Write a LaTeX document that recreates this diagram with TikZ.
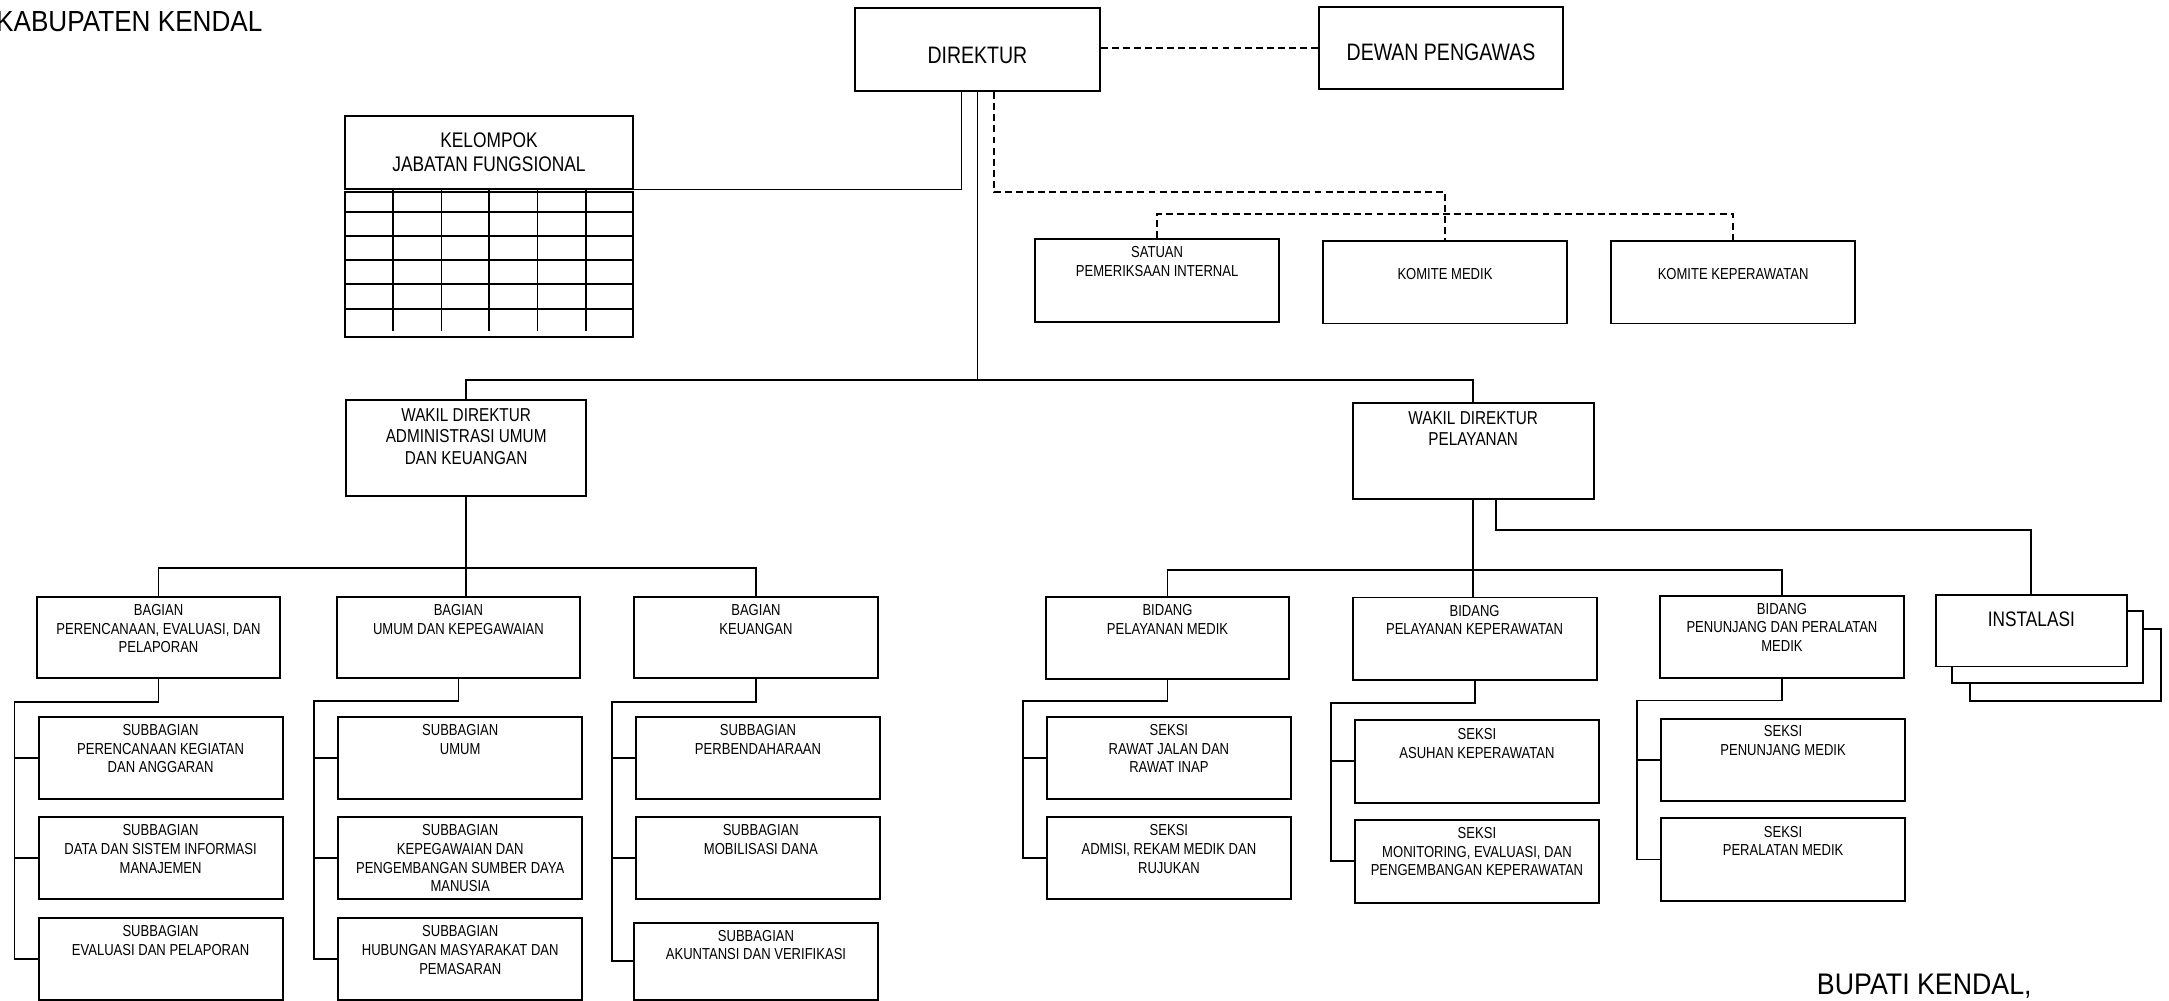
\documentclass[tikz,border=0pt]{standalone}
\usepackage{fontspec}
\setmainfont{Liberation Sans}[FakeStretch=0.82]
\newfontfamily\widefont{Liberation Sans}[FakeStretch=0.9]
\usepackage{tikz}

\begin{document}
\begin{tikzpicture}[x=1pt,y=1pt,yscale=-1,xscale=1,
	unit/.style={draw, line width=1.4pt, inner sep=0pt, minimum width=176.3, minimum height=59.3},
	lbl/.style={anchor=north, inner sep=0.75pt, align=center, font=\fontsize{11.5}{13.5}\selectfont},
	conn/.style={line width=1.3pt},
	dline/.style={line width=1.3pt, dash pattern=on 5pt off 3pt}]
	%set diagram left start at 0, and has height of 723.6
	\path [use as bounding box, fill=white] (0,0) rectangle (1568,723.6);
	
	%Shape: Rectangle [direktur]
	\node [unit, minimum width=177, minimum height=60] (dir) at (706.6,36) {};
	%Shape: Rectangle [dewan pengawas]
	\node [unit, minimum width=176.2, minimum height=59.6] (dewan) at (1041.7,34.6) {};
	%Shape: Rectangle [kelompok jabatan fungsional]
	\node [unit, minimum width=208.2, minimum height=52.3] (kjf) at (353.5,110.2) {};
	%Shape: Grid
	\node [unit, minimum width=208.2, minimum height=104.8] (kjfgrid) at (353.5,191) {};
	\foreach \y in {153.5,170.6,188,205.5,223.4} \draw [conn] (249.4,\y) -- (457.6,\y);
	\foreach \x in {284.3,319.2,353.7,388.6,423.4} \draw [conn] (\x,136.3) -- (\x,239.5);
	%Shape: Rectangle [satuan, komite]
	\node [unit, minimum height=59.7] (satuan) at (836.5,202.7) {};
	\node [unit] (kmedik) at (1044.6,204.2) {};
	\node [unit] (kkep) at (1252.9,204.2) {};
	%Shape: Rectangle [wakil direktur]
	\node [unit, minimum width=173.2, minimum height=69.3] (wadm) at (337,323.7) {};
	\node [unit, minimum width=174.1, minimum height=69.6] (wpel) at (1065,325.8) {};
	%Shape: Rectangle [bagian]
	\node [unit, minimum width=176.2, minimum height=59] (bag1) at (114.6,460.8) {};
	\node [unit, minimum width=176.2, minimum height=59] (bag2) at (331.4,460.8) {};
	\node [unit, minimum width=176.2, minimum height=59] (bag3) at (546.5,460.8) {};
	%Shape: Rectangle [subbagian]
	\node [unit] (s11) at (116.1,547.8) {};
	\node [unit] (s12) at (116.1,620.3) {};
	\node [unit] (s13) at (116.1,693.1) {};
	\node [unit] (s21) at (332.7,547.8) {};
	\node [unit] (s22) at (332.7,620.3) {};
	\node [unit] (s23) at (332.7,693.1) {};
	\node [unit] (s31) at (548,547.8) {};
	\node [unit] (s32) at (548,620.3) {};
	\node [unit, minimum height=55.8] (s33) at (546.5,694.8) {};
	%Shape: Rectangle [bidang]
	\node [unit, minimum height=59.5] (bid1) at (844,461) {};
	\node [unit, minimum height=59.5] (bid2) at (1066,461.7) {};
	\node [unit, minimum height=59.5] (bid3) at (1288.2,460.5) {};
	%Shape: Rectangle [seksi]
	\node [unit] (k11) at (845,548) {};
	\node [unit] (k12) at (845,620.3) {};
	\node [unit, minimum height=60] (k21) at (1067.7,550.4) {};
	\node [unit, minimum height=60] (k22) at (1067.7,622.7) {};
	\node [unit, minimum height=59.5] (k31) at (1289,549.3) {};
	\node [unit, minimum height=59.5] (k32) at (1289,621.4) {};
	%Shape: Rectangle [instalasi, stacked]
	\node [unit, fill=white, minimum width=138, minimum height=52] (inst3) at (1493.2,480.5) {};
	\node [unit, fill=white, minimum width=138, minimum height=52] (inst2) at (1480,467.6) {};
	\node [unit, fill=white, minimum width=138, minimum height=52] (inst) at (1468.5,455.8) {};
	
	%Straight Lines [direktur]
	\draw [dline] (dir.east |- dewan.west) -- (dewan.west);
	\draw [conn] ([xshift=-11.6]dir.south) |- (kjf.south east);
	\draw [conn] (dir.south) -- ++(0,208) coordinate (tbus);
	\draw [dline] ([xshift=11.7]dir.south) -- ++(0,72) -| (kmedik.north);
	\draw [dline] (satuan.north) -- ++(0,-17.4) -| (kkep.north);
	\draw [conn] (wadm.north) |- (tbus) -| (wpel.north);
	%Straight Lines [wakil direktur administrasi]
	\draw [conn] (wadm.south) -- (wadm.south |- bag2.north);
	\draw [conn] (bag1.north) -- ++(0,-20) -| (bag3.north);
	\draw [conn] (bag1.south) -- ++(0,16.3) -| ([xshift=-16.7]s11.west) |- (s13.west);
	\draw [conn] ([xshift=-16.7]s11.west) -- (s11.west);
	\draw [conn] ([xshift=-16.7]s12.west) -- (s12.west);
	\draw [conn] (bag2.south) -- ++(0,16) -| ([xshift=-16.7]s21.west) |- (s23.west);
	\draw [conn] ([xshift=-16.7]s21.west) -- (s21.west);
	\draw [conn] ([xshift=-16.7]s22.west) -- (s22.west);
	\draw [conn] (bag3.south) -- ++(0,16.6) -| ([xshift=-16.7]s31.west) |- (s33.west);
	\draw [conn] ([xshift=-16.7]s31.west) -- (s31.west);
	\draw [conn] ([xshift=-16.7]s32.west) -- (s32.west);
	%Straight Lines [wakil direktur pelayanan]
	\draw [conn] (wpel.south) -- (wpel.south |- bid2.north);
	\draw [conn] ([xshift=16.4]wpel.south) -- ++(0,22) -| (inst.north);
	\draw [conn] (bid1.north) -- ++(0,-18.6) -| (bid3.north);
	\draw [conn] (bid1.south) -- ++(0,15.5) -| ([xshift=-16.7]k11.west) |- (k12.west);
	\draw [conn] ([xshift=-16.7]k11.west) -- (k11.west);
	\draw [conn] (bid2.south) -- ++(0,15.8) -| ([xshift=-16.7]k21.west) |- (k22.west);
	\draw [conn] ([xshift=-16.7]k21.west) -- (k21.west);
	\draw [conn] (bid3.south) -- ++(0,15.4) -| ([xshift=-16.7]k31.west) |- (k32.west);
	\draw [conn] ([xshift=-16.7]k31.west) -- (k31.west);
	
	% Text Node
	\node [anchor=base west, inner sep=0pt, font=\widefont\fontsize{21}{26}\selectfont] (kabT) at (-3,22.9) {KABUPATEN KENDAL};
	\node [anchor=base west, inner sep=0pt, font=\widefont\fontsize{21.5}{26}\selectfont] (bupT) at (1313.3,718.8) {BUPATI KENDAL,};
	\node [inner sep=0.75pt, font=\fontsize{17.2}{20}\selectfont] (dirT) at (706.6,39.8) {DIREKTUR};
	\node [inner sep=0.75pt, font=\fontsize{17.2}{20}\selectfont] (dewanT) at (1041.7,38.1) {DEWAN PENGAWAS};
	\node [inner sep=0.75pt, align=center, font=\fontsize{15.3}{17.4}\selectfont] (kjfT) at (353.5,109.9) {KELOMPOK\\JABATAN FUNGSIONAL};
	\node [lbl] (satuanT) at (836.5,177.4) {SATUAN\\PEMERIKSAAN INTERNAL};
	\node [lbl] (kmedikT) at (1044.6,193.2) {KOMITE MEDIK};
	\node [lbl] (kkepT) at (1252.9,193.2) {KOMITE KEPERAWATAN};
	\node [lbl, font=\fontsize{13.5}{15.6}\selectfont] (wadmT) at (337,294.2) {WAKIL DIREKTUR\\ADMINISTRASI UMUM\\DAN KEUANGAN};
	\node [lbl, font=\fontsize{13.5}{15.6}\selectfont] (wpelT) at (1065,296.5) {WAKIL DIREKTUR\\PELAYANAN};
	% Text Node [bagian]
	\node [lbl] (bag1T) at (114.6,435.9) {BAGIAN\\PERENCANAAN, EVALUASI, DAN\\PELAPORAN};
	\node [lbl] (bag2T) at (331.4,435.9) {BAGIAN\\UMUM DAN KEPEGAWAIAN};
	\node [lbl] (bag3T) at (546.5,435.9) {BAGIAN\\KEUANGAN};
	\node [lbl] (s11T) at (116.1,522.6) {SUBBAGIAN\\PERENCANAAN KEGIATAN\\DAN ANGGARAN};
	\node [lbl] (s12T) at (116.1,595.3) {SUBBAGIAN\\DATA DAN SISTEM INFORMASI\\MANAJEMEN};
	\node [lbl] (s13T) at (116.1,668.3) {SUBBAGIAN\\EVALUASI DAN PELAPORAN};
	\node [lbl] (s21T) at (332.7,522.6) {SUBBAGIAN\\UMUM};
	\node [lbl] (s22T) at (332.7,595.3) {SUBBAGIAN\\KEPEGAWAIAN DAN\\PENGEMBANGAN SUMBER DAYA\\MANUSIA};
	\node [lbl] (s23T) at (332.7,668.3) {SUBBAGIAN\\HUBUNGAN MASYARAKAT DAN\\PEMASARAN};
	\node [lbl] (s31T) at (548,522.6) {SUBBAGIAN\\PERBENDAHARAAN};
	\node [lbl] (s32T) at (550,595.3) {SUBBAGIAN\\MOBILISASI DANA};
	\node [lbl] (s33T) at (546.5,671.4) {SUBBAGIAN\\AKUNTANSI DAN VERIFIKASI};
	% Text Node [bidang]
	\node [lbl] (bid1T) at (844,435.9) {BIDANG\\PELAYANAN MEDIK};
	\node [lbl] (bid2T) at (1066,436.5) {BIDANG\\PELAYANAN KEPERAWATAN};
	\node [lbl] (bid3T) at (1288.2,435) {BIDANG\\PENUNJANG DAN PERALATAN\\MEDIK};
	\node [lbl] (k11T) at (845,522.6) {SEKSI\\RAWAT JALAN DAN\\RAWAT INAP};
	\node [lbl] (k12T) at (845,595.3) {SEKSI\\ADMISI, REKAM MEDIK DAN\\RUJUKAN};
	\node [lbl] (k21T) at (1067.7,525.5) {SEKSI\\ASUHAN KEPERAWATAN};
	\node [lbl] (k22T) at (1067.7,597.1) {SEKSI\\MONITORING, EVALUASI, DAN\\PENGEMBANGAN KEPERAWATAN};
	\node [lbl] (k31T) at (1289,523.7) {SEKSI\\PENUNJANG MEDIK};
	\node [lbl] (k32T) at (1289,596.2) {SEKSI\\PERALATAN MEDIK};
	\node [lbl, font=\fontsize{15.2}{17.5}\selectfont] (instT) at (1468.5,441) {INSTALASI};
\end{tikzpicture}
\end{document}
